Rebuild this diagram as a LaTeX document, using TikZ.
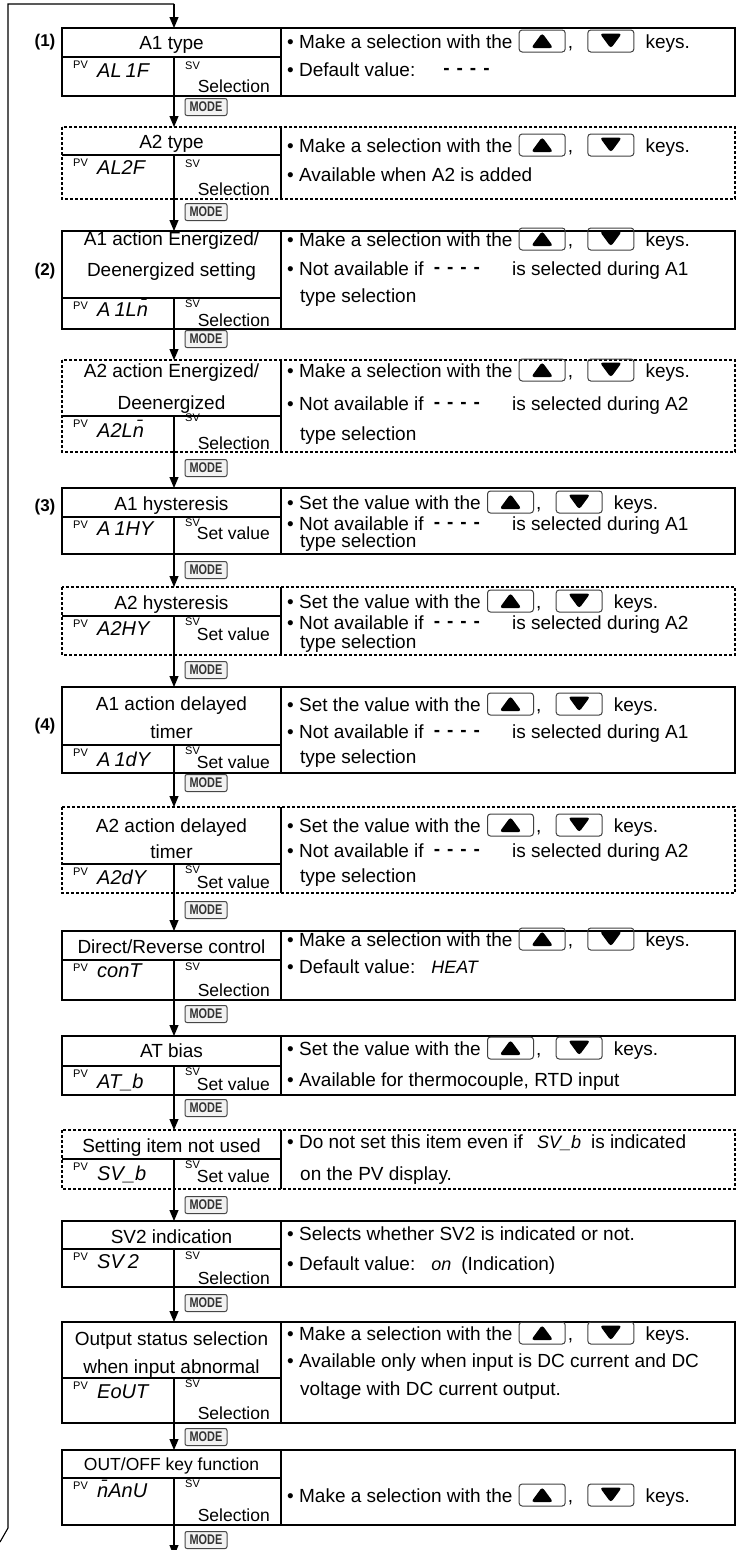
\documentclass[tikz,border=0pt]{standalone}
\usepackage{fontspec}
\setmainfont{Liberation Sans}
\usetikzlibrary{arrows.meta,calc}
\newcommand\fmain{\fontsize{19}{24}\selectfont}
\newcommand\fsel{\fontsize{17.5}{20}\selectfont}
\newcommand\fpv{\fontsize{11}{11}\selectfont}
\newcommand\fseg{\fontsize{20}{20}\selectfont\itshape}
\newcommand\fsegin{\fontsize{18}{18}\selectfont\itshape}
\newcommand\segdash{\raisebox{2pt}{\textbf{-\hspace{7pt}-\hspace{7pt}-\hspace{7pt}-}}}
\tikzset{
  outline/.style={line width=1.1pt},
  dashline/.style={line width=1.3pt, dash pattern=on 3pt off 2pt},
  divline/.style={line width=1.1pt},
  arr/.style={line width=1.1pt, -{Triangle[width=9pt,length=11pt]}},
  txt/.style={inner sep=0pt, font=\fmain, anchor=base west},
  ttl/.style={inner sep=0pt, font=\fmain, anchor=base},
  seg/.style={inner sep=0pt, font=\fseg, anchor=base west},
  pvl/.style={inner sep=0pt, font=\fpv, anchor=north west},
  sel/.style={inner sep=0pt, font=\fsel, anchor=base east},
  num/.style={inner sep=0pt, font=\fontsize{17}{17}\selectfont\bfseries},
  modekey/.style={draw=gray!55!black, fill=gray!10, rounded corners=2pt, line width=1pt, minimum width=42pt, minimum height=17pt, inner sep=0pt, text=black!80, font=\fontsize{14}{14}\selectfont\bfseries},
  keyicon/.style={draw=black!75, rounded corners=3pt, line width=1pt, minimum width=46pt, minimum height=22pt, inner sep=0pt},
  keyup/.style={keyicon, path picture={\fill ([shift={(-11pt,-7pt)}]path picture bounding box.center) -- ++(22pt,0pt) -- ++(-11pt,15pt) -- cycle;}},
  keydown/.style={keyicon, path picture={\fill ([shift={(-11pt,7.5pt)}]path picture bounding box.center) -- ++(22pt,0pt) -- ++(-11pt,-15pt) -- cycle;}},
}
\newcommand\mkpanel[5]{%
  \draw[#5] (62,#2) rectangle (735,#4);
  \draw[divline] (281,#2) -- (281,#4) (62,#3) -- (281,#3) (174,#3) -- (174,#4);
  \coordinate (#1n) at (174,#2);
  \coordinate (#1s) at (174,#4);
}
\newcommand\mkpv[7]{%
  \node[pvl] (#1pv) at (73,#2+4) {PV};
  \node[seg] (#1sg) at (97,#4) {#3};
  \node[pvl] (#1sv) at (185,#5) {SV};
  \node[sel] (#1sel) at (270,#7) {#6};
}
\newcommand\mkkeys[4]{%
  \node[txt] (#1a) at (#2,#3) {#4};
  \node[keyup, anchor=west] (#1b) at ([shift={(6pt,7pt)}]#1a.base east) {};
  \node[txt] (#1c) at ($(#1b.east |- #1a.base)+(2pt,0pt)$) {,};
  \node[keydown, anchor=west] (#1d) at ([shift={(14pt,7pt)}]#1c.base east) {};
  \node[txt] (#1e) at ($(#1d.east |- #1a.base)+(11pt,0pt)$) {keys.};
}
\begin{document}
\begin{tikzpicture}[x=1pt,y=-1pt]
\useasboundingbox (0,0) rectangle (739,1550);

% panels
\mkpanel{b1}{28}{57}{96}{outline}
\mkpanel{b2}{127}{155}{199}{dashline}
\mkpanel{b3}{231}{298}{329}{outline}
\mkpanel{b4}{360}{416}{452}{dashline}
\mkpanel{b5}{488}{517}{554}{outline}
\mkpanel{b6}{587}{616}{655}{dashline}
\mkpanel{b7}{687}{745}{773}{outline}
\mkpanel{b8}{807}{864}{893}{dashline}
\mkpanel{b9}{931}{960}{1000}{outline}
\mkpanel{b10}{1036}{1066}{1095}{outline}
\mkpanel{b11}{1130}{1159}{1189}{dashline}
\mkpanel{b12}{1221}{1249}{1287}{outline}
\mkpanel{b13}{1322}{1378}{1423}{outline}
\mkpanel{b14}{1450}{1478}{1525}{outline}

% loop line
\coordinate (lpTop) at (8,4);
\coordinate (lpC) at (174,4);
\coordinate (lpBot) at (8,1528);
\coordinate (lpEnd) at (0,1542);
\coordinate (bend) at (174,1556);
\draw[divline] (lpEnd) -- (lpBot) -- (lpTop) -- (lpC);
\draw[arr] (lpC) -- (b1n);
\draw[arr] (b1s) -- (b2n);
\draw[arr] (b2s) -- (b3n);
\draw[arr] (b3s) -- (b4n);
\draw[arr] (b4s) -- (b5n);
\draw[arr] (b5s) -- (b6n);
\draw[arr] (b6s) -- (b7n);
\draw[arr] (b7s) -- (b8n);
\draw[arr] (b8s) -- (b9n);
\draw[arr] (b9s) -- (b10n);
\draw[arr] (b10s) -- (b11n);
\draw[arr] (b11s) -- (b12n);
\draw[arr] (b12s) -- (b13n);
\draw[arr] (b13s) -- (b14n);
\draw[arr] (b14s) -- (bend);

% MODE keys
\node[modekey] (m1) at (206,107) {\scalebox{0.78}[1]{MODE}};
\node[modekey] (m2) at (206,212) {\scalebox{0.78}[1]{MODE}};
\node[modekey] (m3) at (206,339) {\scalebox{0.78}[1]{MODE}};
\node[modekey] (m4) at (206,468) {\scalebox{0.78}[1]{MODE}};
\node[modekey] (m5) at (206,570) {\scalebox{0.78}[1]{MODE}};
\node[modekey] (m6) at (206,670) {\scalebox{0.78}[1]{MODE}};
\node[modekey] (m7) at (206,783) {\scalebox{0.78}[1]{MODE}};
\node[modekey] (m8) at (206,910) {\scalebox{0.78}[1]{MODE}};
\node[modekey] (m9) at (206,1014) {\scalebox{0.78}[1]{MODE}};
\node[modekey] (m10) at (206,1108) {\scalebox{0.78}[1]{MODE}};
\node[modekey] (m11) at (206,1205) {\scalebox{0.78}[1]{MODE}};
\node[modekey] (m12) at (206,1303) {\scalebox{0.78}[1]{MODE}};
\node[modekey] (m13) at (206,1437) {\scalebox{0.78}[1]{MODE}};
\node[modekey] (m14) at (206,1540) {\scalebox{0.78}[1]{MODE}};

% group labels
\node[num] (n1) at (45,42) {(1)};
\node[num] (n2) at (45,271) {(2)};
\node[num] (n3) at (45,507) {(3)};
\node[num] (n4) at (45,726) {(4)};

% titles and PV rows
\node[ttl] (b1t) at (171.5,49) {A1 type};
\mkpv{b1}{57}{AL\hspace{4pt}1F}{77}{62}{Selection}{92}
\node[ttl] (b2t) at (171.5,148) {A2 type};
\mkpv{b2}{155}{AL2F}{174}{160}{Selection}{195}
\node[ttl] (b3t) at (171.5,245) {A1 action Energized/};
\node[ttl] (b3u) at (171.5,276) {Deenergized setting};
\mkpv{b3}{298}{A\hspace{4pt}1L\=n}{316}{300}{Selection}{326}
\node[ttl] (b4t) at (171.5,377) {A2 action Energized/};
\node[ttl] (b4u) at (171.5,409) {Deenergized};
\mkpv{b4}{416}{A2L\=n}{437}{414}{Selection}{449}
\node[ttl] (b5t) at (171.5,510) {A1 hysteresis};
\mkpv{b5}{517}{A\hspace{4pt}1HY}{535}{519}{Set value}{539}
\node[ttl] (b6t) at (171.5,609) {A2 hysteresis};
\mkpv{b6}{616}{A2HY}{635}{618}{Set value}{640}
\node[ttl] (b7t) at (171.5,710) {A1 action delayed};
\node[ttl] (b7u) at (171.5,738) {timer};
\mkpv{b7}{745}{A\hspace{4pt}1dY}{766}{747}{Set value}{768}
\node[ttl] (b8t) at (171.5,832) {A2 action delayed};
\node[ttl] (b8u) at (171.5,858) {timer};
\mkpv{b8}{864}{A2dY}{884}{866}{Set value}{888}
\node[ttl] (b9t) at (171.5,953) {Direct/Reverse control};
\mkpv{b9}{960}{conT}{977}{963}{Selection}{996}
\node[ttl] (b10t) at (171.5,1057) {AT bias};
\mkpv{b10}{1066}{AT\_b}{1088}{1068}{Set value}{1090}
\node[ttl] (b11t) at (171.5,1152) {Setting item not used};
\mkpv{b11}{1159}{SV\_b}{1180}{1161}{Set value}{1182}
\node[ttl] (b12t) at (171.5,1243) {SV2 indication};
\mkpv{b12}{1249}{SV\hspace{4pt}2}{1268}{1252}{Selection}{1284}
\node[ttl] (b13t) at (171.5,1345) {Output status selection};
\node[ttl] (b13u) at (171.5,1373) {when input abnormal};
\mkpv{b13}{1378}{EoUT}{1398}{1380}{Selection}{1419}
\node[ttl, font=\fontsize{17.5}{20}\selectfont] (b14t) at (171.5,1470) {OUT/OFF key function};
\mkpv{b14}{1478}{\=nAnU}{1497}{1480}{Selection}{1521}

% right-hand descriptions
\mkkeys{r1}{287}{48}{• Make a selection with the}
\node[txt] (r1f) at (287,76) {• Default value:\hspace{28pt}\segdash};
\mkkeys{r2}{287}{152}{• Make a selection with the}
\node[txt] (r2f) at (287,181) {• Available when A2 is added};
\mkkeys{r3}{287}{246}{• Make a selection with the}
\node[txt] (r3f) at (287,275) {• Not available if\hspace{10pt}\segdash\hspace{32pt}is selected during A1};
\node[txt] (r3g) at (300,302) {type selection};
\mkkeys{r4}{287}{377}{• Make a selection with the}
\node[txt] (r4f) at (287,410) {• Not available if\hspace{10pt}\segdash\hspace{32pt}is selected during A2};
\node[txt] (r4g) at (300,440) {type selection};
\mkkeys{r5}{287}{509}{• Set the value with the}
\node[txt] (r5f) at (287,530) {• Not available if\hspace{10pt}\segdash\hspace{32pt}is selected during A1};
\node[txt] (r5g) at (300,547) {type selection};
\mkkeys{r6}{287}{608}{• Set the value with the}
\node[txt] (r6f) at (287,629) {• Not available if\hspace{10pt}\segdash\hspace{32pt}is selected during A2};
\node[txt] (r6g) at (300,648) {type selection};
\mkkeys{r7}{287}{711}{• Set the value with the}
\node[txt] (r7f) at (287,738) {• Not available if\hspace{10pt}\segdash\hspace{32pt}is selected during A1};
\node[txt] (r7g) at (300,763) {type selection};
\mkkeys{r8}{287}{832}{• Set the value with the}
\node[txt] (r8f) at (287,857) {• Not available if\hspace{10pt}\segdash\hspace{32pt}is selected during A2};
\node[txt] (r8g) at (300,882) {type selection};
\mkkeys{r9}{287}{946}{• Make a selection with the}
\node[txt] (r9f) at (287,973) {• Default value:\hspace{16pt}{\fsegin HEAT}};
\mkkeys{r10}{287}{1055}{• Set the value with the}
\node[txt] (r10f) at (287,1086) {• Available for thermocouple, RTD input};
\node[txt] (r11a) at (287,1148) {• Do not set this item even if\hspace{14pt}{\fsegin SV\_b}\hspace{10pt}is indicated};
\node[txt] (r11b) at (300,1180) {on the PV display.};
\node[txt] (r12a) at (287,1240) {• Selects whether SV2 is indicated or not.};
\node[txt] (r12b) at (287,1270) {• Default value:\hspace{16pt}{\fsegin on}\hspace{10pt}(Indication)};
\mkkeys{r13}{287}{1340}{• Make a selection with the}
\node[txt] (r13f) at (287,1367) {• Available only when input is DC current and DC};
\node[txt] (r13g) at (300,1395) {voltage with DC current output.};
\mkkeys{r14}{287}{1502}{• Make a selection with the}
\end{tikzpicture}
\end{document}
